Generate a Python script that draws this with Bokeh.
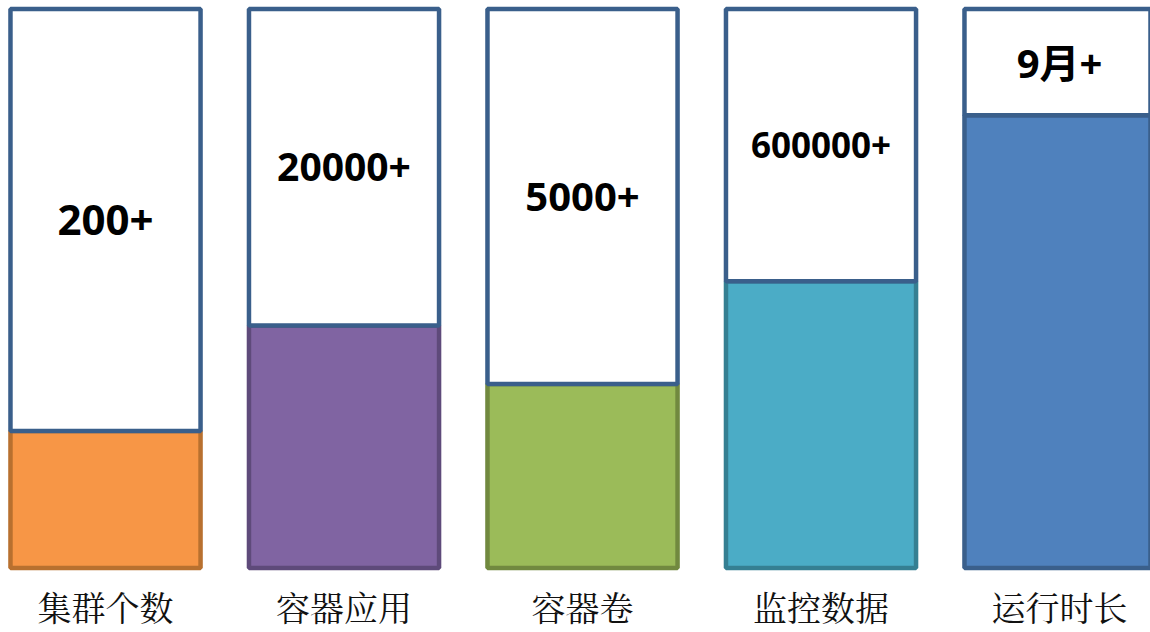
from bokeh.plotting import figure
from bokeh.models import Range1d, ColumnDataSource
from bokeh.core.properties import value
from bokeh.embed import file_html
from bokeh.resources import INLINE

# ---- data ----
categories = ["集群个数", "容器应用", "容器卷", "监控数据", "运行时长"]
value_labels = ["200+", "20000+", "5000+", "600000+", "9月+"]
fill_ratio = [0.245, 0.434, 0.329, 0.513, 0.810]

# ---- styles ----
fill_colors = ["#F79646", "#8064A2", "#9BBB59", "#4BACC6", "#4F81BD"]
edge_colors = ["#B8702F", "#5E4A7A", "#71893F", "#357F92", "#3A5F8B"]
box_edge = "#3A5F8B"
label_sizes = ["42px", "39px", "40px", "35px", "40px"]

xs = list(range(len(categories)))
bar_w = 0.797

p = figure(width=1150, height=632, output_backend="svg", toolbar_location=None,
           x_range=Range1d(-0.4403, 4.3815), y_range=Range1d(-0.1154, 1.0152),
           min_border=0, min_border_left=0, min_border_right=0,
           min_border_top=0, min_border_bottom=0)
p.axis.visible = False
p.grid.visible = False
p.outline_line_color = None
p.background_fill_color = "white"
p.border_fill_color = "white"

# colored lower part
src_fill = ColumnDataSource(dict(x=xs, top=fill_ratio, fc=fill_colors, lc=edge_colors))
p.vbar(x="x", top="top", bottom=0, width=bar_w, fill_color="fc", line_color="lc",
       line_width=4.5, source=src_fill)

# white upper part
src_box = ColumnDataSource(dict(x=xs, bottom=fill_ratio))
p.vbar(x="x", top=1.0, bottom="bottom", width=bar_w, fill_color="white",
       line_color=box_edge, line_width=4.5, source=src_box)

# value labels centered in white part
for i, (lab, r, fs) in enumerate(zip(value_labels, fill_ratio, label_sizes)):
    p.text(x=[i], y=[(1 + r) / 2], text=[lab], text_align="center",
           text_baseline="middle", text_font=value("Open Sans, Noto Sans CJK SC"),
           text_font_style="bold", text_font_size=fs, text_color="#000000")

# category labels under bars
p.text(x=xs, y=[-0.0689] * len(xs), text=categories, text_align="center",
       text_baseline="middle", text_font=value("Noto Serif CJK SC, Noto Sans CJK SC"),
       text_font_size="34px", text_color="#111111")

open("out.html", "w").write(file_html(p, INLINE))
